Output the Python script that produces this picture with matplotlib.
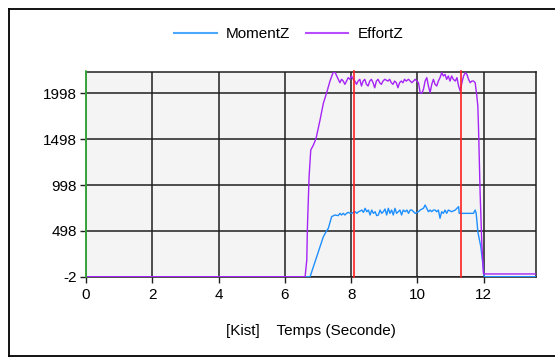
import matplotlib
matplotlib.use("Agg")
import matplotlib.pyplot as plt
from matplotlib.lines import Line2D

plt.rcParams["font.family"] = ["Liberation Sans", "DejaVu Sans"]
plt.rcParams["axes.unicode_minus"] = False

# ── Data ─────────────────────────────────────────────────────────────────────
effort_t = [0, 6.61, 6.66, 6.68, 6.73, 6.78, 6.86, 6.94, 7.06, 7.16, 7.26, 7.36, 7.46,
            7.51, 7.61, 7.66, 7.71, 7.76, 7.81, 7.86, 7.91, 7.96, 8.01, 8.06, 8.11,
            8.16, 8.21, 8.26, 8.31, 8.36, 8.41, 8.46, 8.51, 8.56, 8.61, 8.66, 8.71,
            8.76, 8.81, 8.86, 8.91, 8.96, 9.01, 9.11, 9.16, 9.21, 9.26, 9.31, 9.36,
            9.41, 9.46, 9.51, 9.56, 9.61, 9.66, 9.73, 9.83, 9.93, 10.03, 10.08, 10.13,
            10.18, 10.23, 10.28, 10.33, 10.38, 10.43, 10.48, 10.53, 10.58, 10.63,
            10.68, 10.73, 10.78, 10.83, 10.88, 10.93, 10.98, 11.03, 11.08, 11.14,
            11.19, 11.24, 11.29, 11.34, 11.39, 11.44, 11.49, 11.54, 11.59, 11.64,
            11.69, 11.74, 11.79, 11.82, 11.84, 11.89, 11.94, 11.99, 12.05, 13.56]
effort_v = [-2, -2, 180, 543, 1089, 1380, 1434, 1507, 1707, 1889, 2005, 2132, 2230,
            2230, 2151, 2114, 2151, 2132, 2096, 2132, 2169, 2151, 2187, 2151, 2132,
            2096, 2132, 2151, 2078, 2132, 2151, 2096, 2078, 2132, 2151, 2114, 2059,
            2132, 2151, 2114, 2096, 2132, 2151, 2132, 2151, 2114, 2096, 2132, 2114,
            2059, 2114, 2132, 2114, 2151, 2132, 2151, 2114, 2151, 2114, 2005, 1998,
            2042, 2132, 2169, 2078, 2005, 2096, 2151, 2096, 2078, 2132,
            2169, 2223, 2187, 2205, 2151, 2187, 2132, 2187, 2151, 2132,
            2169, 2078, 2023, 2114, 2187, 2223, 2205, 2151, 2114, 2132,
            2132, 2114, 1969, 1860, 1634, 907, 362, 30, 28, 28]

moment_t = [0, 6.76, 6.86, 6.96, 7.06, 7.16, 7.26, 7.31, 7.41, 7.51, 7.61, 7.66, 7.71,
            7.76, 7.81, 7.86, 7.91, 7.97, 8.02, 8.07, 8.12, 8.17, 8.22, 8.27, 8.32,
            8.37, 8.42, 8.47, 8.52, 8.57, 8.62, 8.67, 8.72, 8.77, 8.82, 8.87, 8.92,
            8.97, 9.02, 9.07, 9.12, 9.17, 9.22, 9.27, 9.32, 9.37, 9.42, 9.47, 9.52,
            9.57, 9.63, 9.68, 9.73, 9.78, 9.83, 9.93, 10.03, 10.08, 10.18, 10.23,
            10.28, 10.33, 10.38, 10.43, 10.48, 10.53, 10.58, 10.63, 10.68, 10.73,
            10.78, 10.83, 10.88, 10.93, 11.03, 11.14, 11.19, 11.24, 11.26, 11.39,
            11.49, 11.59, 11.69, 11.74, 11.77, 11.79, 11.82, 11.91, 11.97, 12.01, 13.56]
moment_v = [-2, -2, 107, 216, 325, 434, 500, 525, 653, 671, 664, 689, 671,
            689, 671, 689, 700, 689, 689, 700, 707, 689, 707, 714, 725,
            700, 744, 707, 725, 671, 725, 689, 707, 664, 671, 725, 689,
            707, 736, 671, 744, 689, 725, 671, 744, 689, 707, 725, 671,
            725, 707, 725, 689, 725, 725, 689, 707, 725, 744, 780,
            744, 707, 725, 707, 725, 725, 707, 725, 635, 707,
            689, 725, 689, 725, 707, 725, 744, 762, 689, 689,
            689, 689, 689, 725, 689, 616, 489, 325, 144, -2, -2]

start_mark = 0.0
red_marks = [8.08, 11.30]

x_ticks = [0, 2, 4, 6, 8, 10, 12]
y_ticks = [-2, 498, 998, 1498, 1998]

BLUE = "#1e8fff"
PURPLE = "#a623f5"
GRID = "#1f1f1f"

# ── Figure ───────────────────────────────────────────────────────────────────
fig = plt.figure(figsize=(5.55, 3.57), dpi=100)
fig.patch.set_facecolor("white")
ax = fig.add_axes([86 / 555, 1 - 276.7 / 357, 449.5 / 555, 205 / 357])
ax.set_facecolor("#f4f4f4")

ax.plot(moment_t, moment_v, color=BLUE, lw=1.0, label="MomentZ", zorder=3)
ax.plot(effort_t, effort_v, color=PURPLE, lw=1.0, label="EffortZ", zorder=4)
for xm in red_marks:
    ax.axvline(xm, color="#ff2020", lw=1.2, zorder=5, clip_on=False, ymax=1.005)
ax.axvline(start_mark, color="#3cb83c", lw=1.2, zorder=5, clip_on=False, ymax=1.005)

ax.set_xlim(0, 13.56)
ax.set_ylim(-2, 2234)
ax.set_xticks(x_ticks)
ax.set_yticks(y_ticks)
ax.grid(True, color=GRID, lw=1.1, zorder=1)
ax.set_axisbelow(True)
for s in ax.spines.values():
    s.set_color(GRID)
    s.set_linewidth(1.1)
ax.tick_params(length=4, width=1, color=GRID, labelsize=11, pad=2.5)
ax.tick_params(axis="x", pad=4)

leg = ax.legend(loc="center", bbox_to_anchor=(0.52, 0.905), bbox_transform=fig.transFigure,
                ncol=2, frameon=False, fontsize=11, handlelength=2.8,
                handletextpad=0.6, columnspacing=1.0)
leg.get_lines()[0].set_color("#4aa8ff")
leg.get_lines()[1].set_color("#b84dff")
for ln in leg.get_lines():
    ln.set_linewidth(1.5)

fig.text(310.6 / 555, 1 - 331 / 357, "[Kist]    Temps (Seconde)", ha="center", va="center",
         fontsize=11)

# outer frame (left, top, bottom)
x0, x1 = 9.3 / 555, 1.0
y0, y1 = 1 - 356 / 357, 1 - 8.6 / 357
for xs, ys in [([x0, x0], [y0, y1]), ([x0, x1], [y1, y1]), ([x0, x1], [y0, y0])]:
    fig.add_artist(Line2D(xs, ys, color="black", lw=1.3, transform=fig.transFigure))

fig.savefig("out.png", dpi=100)
